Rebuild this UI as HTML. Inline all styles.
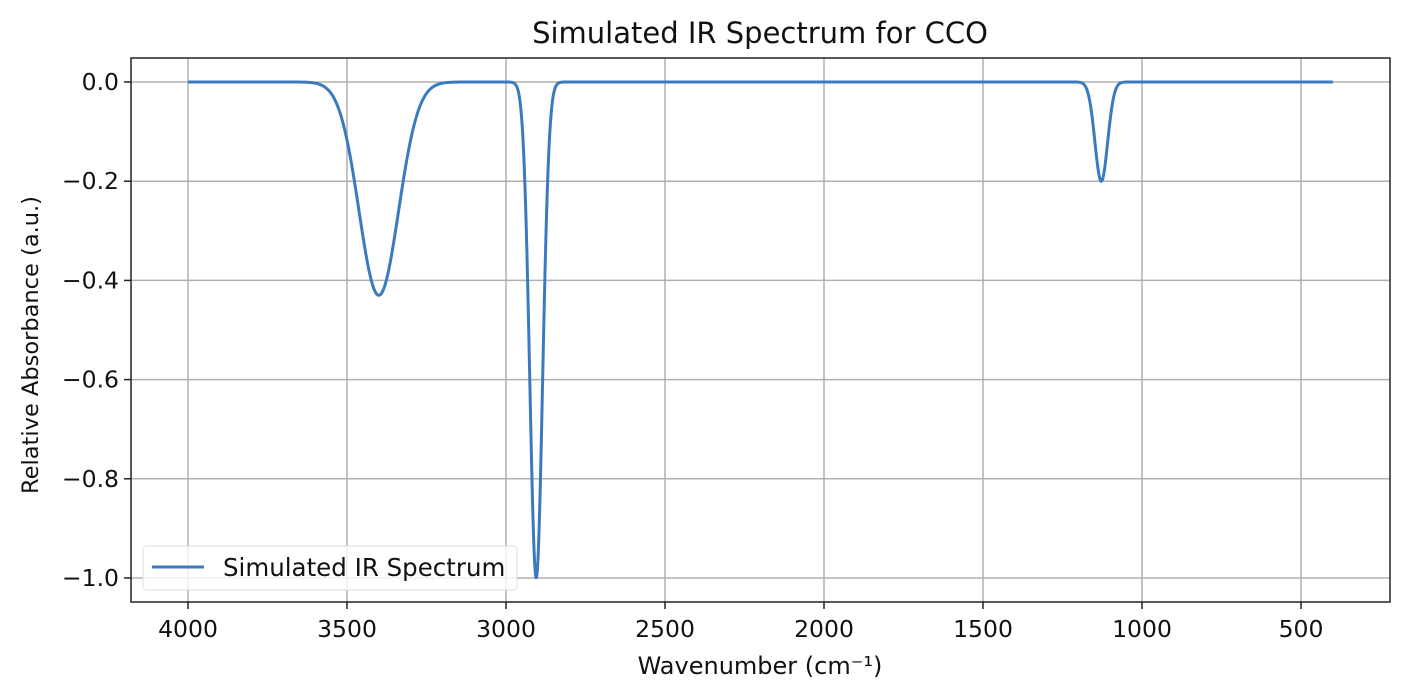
<!DOCTYPE html>
<html><head><meta charset="utf-8"><style>
html,body{margin:0;padding:0;background:#fff;}
svg{display:block;font-family:"DejaVu Sans","Liberation Sans",sans-serif;}
</style></head><body>
<svg id="chart" width="1408" height="685" xmlns="http://www.w3.org/2000/svg">
<text x="760" y="43" font-size="29" text-anchor="middle" fill="#111">Simulated IR Spectrum for CCO</text>
<g id="grid"></g>
<g id="xticks"></g>
<g id="yticks"></g>
<path id="line" fill="none" stroke="#3a7bbf" stroke-width="3"/>
<rect x="131" y="58" width="1259" height="544" fill="none" stroke="#222" stroke-width="1.5"/>
<text x="760" y="674" font-size="24" text-anchor="middle" fill="#111">Wavenumber (cm⁻¹)</text>
<text transform="translate(38,345) rotate(-90)" font-size="22.5" text-anchor="middle" fill="#111">Relative Absorbance (a.u.)</text>
<g>
<rect x="143" y="546" width="374" height="44" rx="4" fill="#fff" fill-opacity="0.8" stroke="#ddd"/>
<line x1="152" y1="567" x2="204" y2="567" stroke="#3a7bbf" stroke-width="3"/>
<text x="223" y="576" font-size="24.5" fill="#111">Simulated IR Spectrum</text>
</g>
</svg>
<script>
const xTicks = [4000,3500,3000,2500,2000,1500,1000,500];
const yTicks = [0.0,-0.2,-0.4,-0.6,-0.8,-1.0];
const yTickLabels = ["0.0","\u22120.2","\u22120.4","\u22120.6","\u22120.8","\u22121.0"];
const peakCenters = [3400,2905,1128];
const peakIntensities = [0.43,1.0,0.2];
const peakWidths = [62,20,20];
const xRange = [4000,400];

const NS="http://www.w3.org/2000/svg";
function xs(v){return 188+(4000-v)*(1301-188)/3500;}
function ys(v){return 82-v*496/1.0;}
const grid=document.getElementById('grid'),gx=document.getElementById('xticks'),gy=document.getElementById('yticks');
function mk(tag,attrs,parent){const e=document.createElementNS(NS,tag);for(const k in attrs)e.setAttribute(k,attrs[k]);parent.appendChild(e);return e;}
xTicks.forEach(t=>{
  const x=xs(t);
  const g=mk('line',{x1:x,x2:x,y1:58,y2:602,stroke:'#b0b0b0','stroke-width':1.5},grid);
  
  
  const tk=mk('line',{x1:x,x2:x,y1:602,y2:609,stroke:'#222','stroke-width':1.5},gx);
  
  
  const tx=mk('text',{x:x,y:637,'font-size':23.5,'text-anchor':'middle',fill:'#111'},gx);
  tx.textContent=t;
  
  
});
yTicks.forEach((t,i)=>{
  const y=ys(t);
  const g=mk('line',{x1:131,x2:1390,y1:y,y2:y,stroke:'#b0b0b0','stroke-width':1.5},grid);
  
  
  const tk=mk('line',{x1:124,x2:131,y1:y,y2:y,stroke:'#222','stroke-width':1.5},gy);
  
  
  const tx=mk('text',{x:119,y:y+8,'font-size':23.5,'text-anchor':'end',fill:'#111'},gy);
  tx.textContent=yTickLabels[i];
  
  
});
let d='';
for(let w=xRange[0];w>=xRange[1];w-=2){
  let v=0;
  for(let i=0;i<peakCenters.length;i++){const z=(w-peakCenters[i])/peakWidths[i];v-=peakIntensities[i]*Math.exp(-0.5*z*z);}
  d+=(d?'L':'M')+xs(w).toFixed(2)+','+ys(v).toFixed(2);
}
document.getElementById('line').setAttribute('d',d);
</script>
</body></html>
